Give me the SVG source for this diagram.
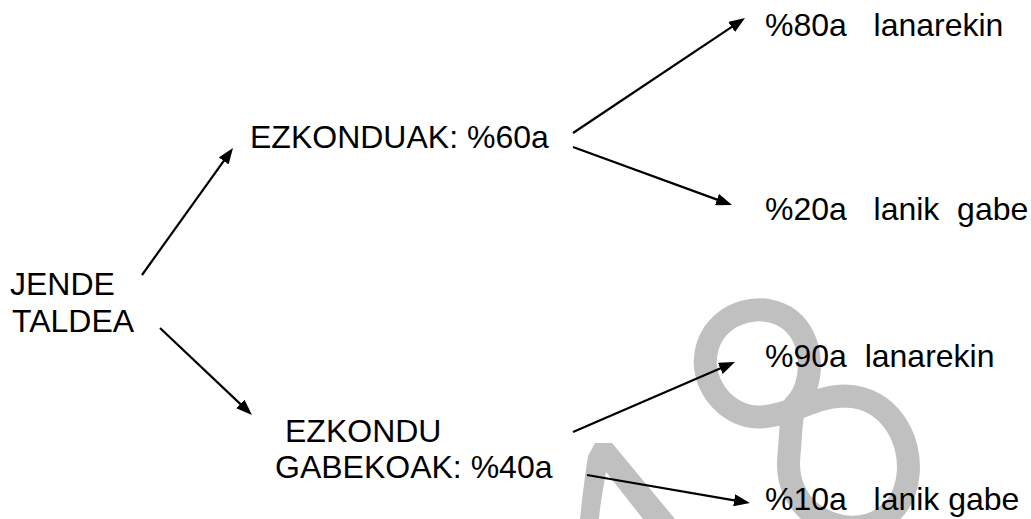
<svg xmlns="http://www.w3.org/2000/svg" width="1031" height="519" viewBox="0 0 1031 519">
<style>
.t{font-family:"Liberation Sans",Arial,sans-serif;font-size:32px;fill:#000;white-space:pre}
.c{stroke:#000;stroke-width:2.2;fill:none;marker-end:url(#ah)}
.w{fill:none;stroke:#c0c0c0}
</style>
<defs>
<marker id="ah" viewBox="0 0 16 12" refX="6" refY="6" markerWidth="16" markerHeight="12" markerUnits="userSpaceOnUse" orient="auto">
<path d="M0,0 L16,6 L0,12 Z" fill="#000"/>
</marker>
</defs>
<rect width="1031" height="519" fill="#fff"/>
<g id="watermark">
<path class="w" stroke-width="23" d="M795,405 C815,385 815,340 790,320 C765,300 720,310 708,345 C696,380 725,418 760,417 C790,416 815,396 845,396 C890,397 912,440 908,475 C904,515 870,532 840,526 C805,518 785,490 789,455 C791,435 790,420 795,405 Z"/>
<path d="M595,443 L612,443 L675,519 L643,519 L606,472 C603,490 600,505 599,519 L580,519 C582,500 585,475 588,456 Z" fill="#c0c0c0"/>
</g>
<g id="connectors">
<path class="c" d="M142,275 L227.2,156.1"/>
<path class="c" d="M160,328 L244.7,408.1"/>
<path class="c" d="M573,133 L736.7,23.6"/>
<path class="c" d="M573,147 L722.6,201.6"/>
<path class="c" d="M573,432 L725.8,366"/>
<path class="c" d="M587,475 L740.1,501.3"/>
</g>
<g id="jende"><text class="t" x="10" y="295">JENDE</text><text class="t" x="12" y="332">TALDEA</text></g>
<g id="ezkonduak"><text class="t" x="250" y="148">EZKONDUAK: %60a</text></g>
<g id="ezkondu-gabekoak"><text class="t" x="285" y="442">EZKONDU</text><text class="t" x="275" y="478">GABEKOAK: %40a</text></g>
<g id="n80"><text class="t" x="765" y="36">%80a   lanarekin</text></g>
<g id="n20"><text class="t" x="765" y="220">%20a   lanik  gabe</text></g>
<g id="n90"><text class="t" x="765" y="367">%90a  lanarekin</text></g>
<g id="n10"><text class="t" x="765" y="510">%10a   lanik gabe</text></g>
</svg>
